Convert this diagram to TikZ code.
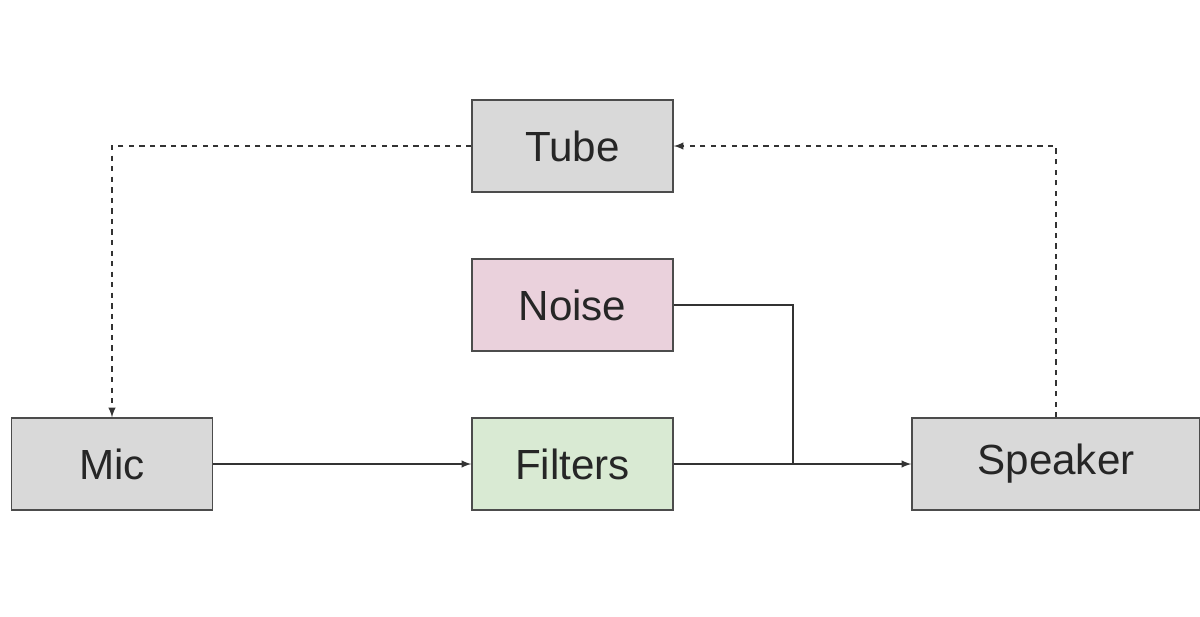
\documentclass[tikz,border=0pt]{standalone}
\usepackage{fontspec}
\setmainfont{Liberation Sans}
\usetikzlibrary{arrows,positioning}

\begin{document}
\begin{tikzpicture}[
	x = 0.02cm, y = -0.02cm,
	> = latex, % arrow head style
	thick,
	B/.style={rectangle, draw=black!70, minimum width=4.02cm, minimum height=1.84cm, font=\fontsize{24}{28}\selectfont, text=black!85},
	link/.style={draw=black!80, line width=0.9pt},
	]
	\useasboundingbox (0,0) rectangle (1200,616);

	% Nodes
	\node[B, fill=black!15] (tube) at (572.5,146) {Tube};
	\node[B, fill=red!10!magenta!8!white, fill={rgb,255:red,234;green,209;blue,220}] (noise) at (572.5,305) {Noise};
	\node[B, fill={rgb,255:red,217;green,234;blue,211}] (filters) at (572.5,464) {Filters};
	\node[B, fill=black!15] (mic) at (112,464) {Mic};
	\node[B, fill=black!15, minimum width=5.76cm] (speaker) at (1056,464) {Speaker};

	\coordinate (join) at (793,464);

	% Paths
	\draw[link, ->] (mic) -- (filters);
	\draw[link, ->] (filters) -- (speaker);
	\draw[link] (noise.east) -| (join);
	\draw[link, dashed, ->] (speaker.north) |- (tube.east);
	\draw[link, dashed, ->] (tube.west) -| (mic.north);

\end{tikzpicture}
\end{document}
